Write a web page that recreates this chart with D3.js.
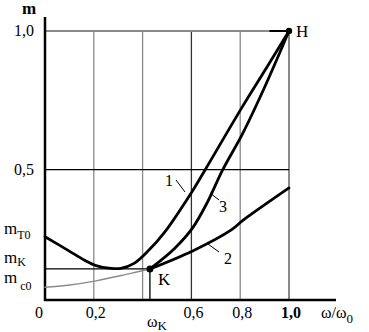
<!DOCTYPE html>
<html>
<head>
<meta charset="utf-8">
<script src="https://cdn.jsdelivr.net/npm/d3@7"></script>
<style>
  body { margin: 0; background: #fff; }
  svg text { font-family: "Liberation Serif", "Times New Roman", Times, "DejaVu Serif", serif; }
</style>
</head>
<body>
<svg id="chart" width="369" height="332"></svg>
<script>
// ---- data ----
const CURVE_1_W = [0, 0.093, 0.161, 0.209, 0.27, 0.311, 0.365, 0.426, 0.488, 0.607, 0.656, 0.811, 0.906, 1.0];
const CURVE_1_M = [0.258, 0.21, 0.174, 0.154, 0.144, 0.144, 0.162, 0.21, 0.272, 0.427, 0.499, 0.73, 0.865, 1.0];

const CURVE_3_W = [0.43, 0.53, 0.605, 0.667, 0.728, 0.811, 0.906, 1.0];
const CURVE_3_M = [0.142, 0.215, 0.29, 0.385, 0.499, 0.632, 0.809, 1.0];

const CURVE_2_W = [0.43, 0.605, 0.762, 0.811, 1.0];
const CURVE_2_M = [0.142, 0.207, 0.282, 0.317, 0.434];

// thin part of curve 2, left of K
const CURVE_2_THIN_W = [0, 0.093, 0.209, 0.283, 0.352, 0.43];
const CURVE_2_THIN_M = [0.076, 0.083, 0.099, 0.113, 0.126, 0.142];

const W_K = 0.43;
const M_K = 0.142;
const M_T0 = 0.258;
const M_C0 = 0.076;

const X_TICKS = [0, 0.2, 0.6, 0.8, 1.0];
const X_TICK_LABELS = ["0", "0,2", "0,6", "0,8", "1,0"];
const Y_TICKS = [0.5, 1.0];
const Y_TICK_LABELS = ["0,5", "1,0"];
const X_GRID = [0.2, 0.4, 0.6, 0.8, 1.0];
const M_AXIS = 0.03; // value at which the horizontal axis sits

// ---- layout ----
const svg = d3.select("#chart");
const GRAY = "#8a8a8a";
const FONT_SIZE = 16;

const xScale = d3.scaleLinear().domain([0, 1]).range([45, 289]);
const yScale = d3.scaleLinear().domain([M_AXIS, 1]).range([300, 31]);

const x0 = xScale(0);
const yBase = yScale(M_AXIS);
const yTop = yScale(1);

// grid
X_GRID.forEach(function(w) {
    svg.append("line")
        .attr("x1", xScale(w)).attr("x2", xScale(w))
        .attr("y1", yBase).attr("y2", yTop)
        .attr("stroke", (w === 0.6) ? "#333" : GRAY)
        .attr("stroke-width", (w === 1.0) ? 2 : 1.3);
});
svg.append("line")
    .attr("x1", x0).attr("x2", xScale(1))
    .attr("y1", yTop).attr("y2", yTop)
    .attr("stroke", GRAY).attr("stroke-width", 2);
svg.append("line")
    .attr("x1", xScale(0.92)).attr("x2", xScale(1))
    .attr("y1", yTop).attr("y2", yTop)
    .attr("stroke", "#000").attr("stroke-width", 2);
svg.append("line")
    .attr("x1", x0).attr("x2", xScale(1))
    .attr("y1", yScale(0.5)).attr("y2", yScale(0.5))
    .attr("stroke", "#000").attr("stroke-width", 1.2);

// K guide lines
svg.append("line")
    .attr("x1", x0).attr("x2", xScale(W_K))
    .attr("y1", yScale(M_K)).attr("y2", yScale(M_K))
    .attr("stroke", "#000").attr("stroke-width", 1.3);
svg.append("line")
    .attr("x1", xScale(W_K)).attr("x2", xScale(W_K))
    .attr("y1", yBase).attr("y2", yScale(M_K))
    .attr("stroke", "#000").attr("stroke-width", 1.3);

// axes
svg.append("line")
    .attr("x1", x0).attr("x2", x0)
    .attr("y1", yBase + 1).attr("y2", 17)
    .attr("stroke", "#000").attr("stroke-width", 2.5);
svg.append("line")
    .attr("x1", x0 - 1).attr("x2", 336)
    .attr("y1", yBase).attr("y2", yBase)
    .attr("stroke", "#000").attr("stroke-width", 2.5);

// curves
const line = d3.line()
    .x(function(d) { return xScale(d[0]); })
    .y(function(d) { return yScale(d[1]); })
    .curve(d3.curveCatmullRom);

function drawCurve(ws, ms, color, width) {
    svg.append("path")
        .datum(d3.zip(ws, ms))
        .attr("d", line)
        .attr("fill", "none")
        .attr("stroke", color)
        .attr("stroke-width", width)
        .attr("stroke-linecap", "round");
}
drawCurve(CURVE_2_THIN_W, CURVE_2_THIN_M, GRAY, 1.5);
drawCurve(CURVE_1_W, CURVE_1_M, "#000", 2.8);
drawCurve(CURVE_3_W, CURVE_3_M, "#000", 2.8);
drawCurve(CURVE_2_W, CURVE_2_M, "#000", 2.8);

// points K and H
svg.append("circle").attr("cx", xScale(W_K)).attr("cy", yScale(M_K)).attr("r", 3.5);
svg.append("circle").attr("cx", xScale(1)).attr("cy", yScale(1)).attr("r", 3.2);

// curve labels with leader lines
const CURVE_LABELS = [
    { text: "1", lx: 169, ly: 186, x1: 176, y1: 180, x2: 185, y2: 192 },
    { text: "3", lx: 223, ly: 212, x1: 210, y1: 193, x2: 219, y2: 200 },
    { text: "2", lx: 228, ly: 264, x1: 208, y1: 244, x2: 219, y2: 252 }
];
CURVE_LABELS.forEach(function(c) {
    svg.append("line")
        .attr("x1", c.x1).attr("y1", c.y1).attr("x2", c.x2).attr("y2", c.y2)
        .attr("stroke", "#000").attr("stroke-width", 1);
    svg.append("text")
        .attr("x", c.lx).attr("y", c.ly)
        .attr("text-anchor", "middle")
        .attr("font-size", FONT_SIZE)
        .text(c.text);
});

svg.append("text")
    .attr("x", xScale(W_K) + 8).attr("y", yScale(M_K) + 16)
    .attr("font-size", 17).text("K");
svg.append("text")
    .attr("x", xScale(1) + 7).attr("y", yScale(1) + 6)
    .attr("font-size", 17).text("H");

// y tick labels
Y_TICKS.forEach(function(t, i) {
    svg.append("text")
        .attr("x", 34).attr("y", yScale(t) + 5)
        .attr("text-anchor", "end")
        .attr("font-size", FONT_SIZE)
        .text(Y_TICK_LABELS[i]);
});
svg.append("text")
    .attr("x", 29).attr("y", 14)
    .attr("text-anchor", "middle")
    .attr("font-size", 17).attr("font-weight", "bold")
    .text("m");

// y value labels with subscripts
const Y_NAMED = [
    { m: M_T0, sub: "T0", dy: -3, sdy: 5, sdx: 0 },
    { m: M_K, sub: "K", dy: -6, sdy: 3, sdx: 0 },
    { m: M_C0, sub: "c0", dy: -4, sdy: 7, sdx: 3 }
];
Y_NAMED.forEach(function(n) {
    var t = svg.append("text")
        .attr("x", 4).attr("y", yScale(n.m) + n.dy)
        .attr("font-size", 17);
    t.append("tspan").text("m");
    t.append("tspan").attr("dy", n.sdy).attr("dx", n.sdx)
        .attr("font-size", 12).text(n.sub);
});

// x tick labels
X_TICKS.forEach(function(t, i) {
    svg.append("text")
        .attr("x", xScale(t) + (t === 0 ? -6 : 2)).attr("y", 318)
        .attr("text-anchor", "middle")
        .attr("font-size", FONT_SIZE)
        .attr("font-weight", t === 1.0 ? "bold" : "normal")
        .text(X_TICK_LABELS[i]);
});
var wk = svg.append("text")
    .attr("x", xScale(W_K) - 3).attr("y", 327)
    .attr("font-size", 16);
wk.append("tspan").text("ω");
wk.append("tspan").attr("dy", 3).attr("font-size", 13).text("K");

var wTitle = svg.append("text")
    .attr("x", 321).attr("y", 318)
    .attr("font-size", 16);
wTitle.append("tspan").text("ω/ω");
wTitle.append("tspan").attr("dy", 5).attr("font-size", 13).text("0");
</script>
</body>
</html>
